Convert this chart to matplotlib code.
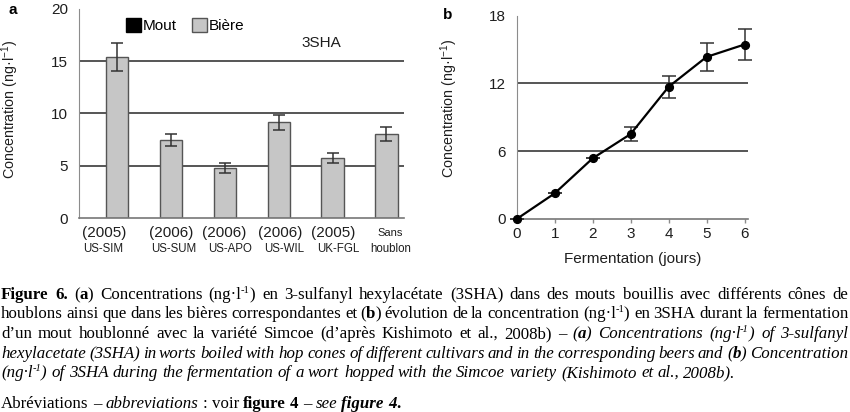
import numpy as np
import matplotlib
matplotlib.use("Agg")
from matplotlib import pyplot as plt
from matplotlib.patches import Patch
from matplotlib.transforms import IdentityTransform, blended_transform_factory, offset_copy

plt.rcParams["font.family"] = ["Liberation Sans", "DejaVu Sans"]
plt.rcParams["mathtext.fontset"] = "custom"
plt.rcParams["mathtext.rm"] = "Liberation Sans"
plt.rcParams["mathtext.it"] = "Liberation Sans:italic"
plt.rcParams["mathtext.bf"] = "Liberation Sans:bold"

# panel a : 3SHA in beers brewed with different hop cultivars
years = ["(2005)", "(2006)", "(2006)", "(2006)", "(2005)", "Sans"]
cultivars = ["US-SIM", "US-SUM", "US-APO", "US-WIL", "UK-FGL", "houblon"]
beer = [15.4, 7.45, 4.75, 9.15, 5.75, 8.05]
beer_err = [1.33, 0.6, 0.47, 0.74, 0.5, 0.7]

# panel b : 3SHA during fermentation
days = [0, 1, 2, 3, 4, 5, 6]
conc = [0, 2.27, 5.37, 7.52, 11.7, 14.35, 15.45]
conc_err = [0, 0, 0, 0.62, 1.0, 1.22, 1.33]

caption = [
    ([("Figure 6.", "b"), (" (", "r"), ("a", "b"), (") Concentrations (ng·l", "r"), ("-1", "sup"),
      (") en 3-sulfanyl hexylacétate (3SHA) dans des mouts bouillis avec différents cônes de", "r")], True),
    ([("houblons ainsi que dans les bières correspondantes et (", "r"), ("b", "b"),
      (") évolution de la concentration (ng·l", "r"), ("-1", "sup"), (") en 3SHA durant la fermentation", "r")], True),
    ([("d’un mout houblonné avec la variété Simcoe (d’après Kishimoto et al., 2008b) – ", "r"), ("(", "i"),
      ("a", "bi"), (") Concentrations (ng·l", "i"), ("-1", "isup"), (") of 3-sulfanyl", "i")], True),
    ([("hexylacetate (3SHA) in worts boiled with hop cones of different cultivars and in the corresponding beers and (", "i"),
      ("b", "bi"), (") Concentration", "i")], True),
    ([("(ng·l", "i"), ("-1", "isup"),
      (") of 3SHA during the fermentation of a wort hopped with the Simcoe variety (Kishimoto et al., 2008b).", "i")], False),
    ([("Abréviations – ", "r"), ("abbreviations", "i"), (" : voir ", "r"), ("figure 4", "b"), (" – ", "r"),
      ("see ", "i"), ("figure 4", "bi"), (".", "b")], False),
]

W, H, DPI = 850, 412, 100
fig = plt.figure(figsize=(W / DPI, H / DPI), dpi=DPI)


def box(l, t, r, b):
    return [l / W, 1 - b / H, (r - l) / W, (b - t) / H]


GRID = "#555555"
AXIS = "#8c8c8c"
TXT = "#1e1e1e"

# ---- panel a
ax1 = fig.add_axes(box(79, 9, 404, 218))
x = np.arange(len(beer))
for y in [5, 10, 15]:
    ax1.axhline(y, color=GRID, lw=1.4, zorder=0)
ax1.bar(x, beer, width=0.414, color="#c6c6c6", edgecolor="#555555", linewidth=1.0,
        yerr=beer_err, capsize=4.5,
        error_kw=dict(ecolor="#333333", elinewidth=1.1, capthick=1.1), zorder=2)
ax1.set_xlim(-0.709, 5.325)
ax1.set_ylim(0, 20)
ax1.set_yticks([0, 5, 10, 15, 20])
ax1.set_xticks([])
ax1.tick_params(axis="y", length=0, pad=8, labelsize=11, labelcolor=TXT)
for s in ["top", "right"]:
    ax1.spines[s].set_visible(False)
ax1.spines["left"].set_color(AXIS)
ax1.spines["bottom"].set_color("#777777")
ax1.spines["bottom"].set_linewidth(1.2)

trans = blended_transform_factory(ax1.transData, ax1.transAxes)
dx_year = [-13, 0, -1, 1, 1, 4]
dx_cult = [-14, 3, 5, 5, 6, 4]
for i, (yr, cv) in enumerate(zip(years, cultivars)):
    small = i == len(years) - 1
    ax1.text(i, -0.072, yr, transform=offset_copy(trans, fig, x=dx_year[i], units="dots"),
             ha="center", va="center", fontsize=8 if small else 11, color=TXT)
    ax1.text(i, -0.146, cv, transform=offset_copy(trans, fig, x=dx_cult[i], units="dots"),
             ha="center", va="center", fontsize=8.3, color=TXT)

ax1.set_ylabel("Concentration (ng·l$^{-1}$)", fontsize=10.3, color=TXT)
ax1.yaxis.set_label_coords(-0.178, 0.517)
handles = [Patch(facecolor="black", edgecolor="black"),
           Patch(facecolor="#c6c6c6", edgecolor="#555555")]
ax1.legend(handles, ["Mout", "Bière"], ncol=2, loc="upper left", bbox_to_anchor=(0.145, 0.955),
           frameon=False, fontsize=11, handlelength=1.0, handleheight=1.0,
           handletextpad=0.1, columnspacing=1.0, borderpad=0, borderaxespad=0)
ax1.text(0.747, 0.839, "3SHA", transform=ax1.transAxes, ha="center", va="center",
         fontsize=11, color=TXT)
fig.text(13 / W, 1 - 10 / H, "a", fontsize=11, fontweight="bold", ha="center", va="center")

# ---- panel b
ax2 = fig.add_axes(box(516.7, 15.7, 748.3, 219))
for y in [6, 12]:
    ax2.axhline(y, color=GRID, lw=1.4, zorder=0)
ax2.errorbar(days, conc, yerr=conc_err, color="black", lw=1.6, marker="o", ms=5.6,
             capsize=5, ecolor="#333333", elinewidth=1.1, capthick=1.1, clip_on=False, zorder=3)
ax2.set_xlim(0, 6.1)
ax2.set_ylim(0, 18)
ax2.set_xticks(days)
ax2.set_yticks([0, 6, 12, 18])
ax2.tick_params(axis="y", length=0, pad=8, labelsize=11, labelcolor=TXT)
ax2.tick_params(axis="x", length=3, width=1, color=AXIS, pad=3, labelsize=11, labelcolor=TXT)
for s in ["top", "right"]:
    ax2.spines[s].set_visible(False)
ax2.spines["left"].set_color(AXIS)
ax2.spines["bottom"].set_color("#777777")
ax2.spines["bottom"].set_linewidth(1.2)
ax2.set_xlabel("Fermentation (jours)", fontsize=11, color=TXT, labelpad=8)
ax2.set_ylabel("Concentration (ng·l$^{-1}$)", fontsize=10.3, color=TXT)
ax2.yaxis.set_label_coords(-0.245, 0.543)
fig.text(448 / W, 1 - 15 / H, "b", fontsize=11, fontweight="bold", ha="center", va="center")

# ---- caption, justified like the printed page
STYLES = {
    "r": ("normal", "normal", 1.0, 0.0),
    "b": ("bold", "normal", 1.0, 0.0),
    "i": ("normal", "italic", 1.0, 0.0),
    "bi": ("bold", "italic", 1.0, 0.0),
    "sup": ("normal", "normal", 0.62, 0.38),
    "isup": ("normal", "italic", 0.62, 0.38),
}
renderer = fig.canvas.get_renderer()
X0, X1 = 1.0, 848.0


def split_tokens(pieces):
    tokens = [[]]
    for text, code in pieces:
        for k, part in enumerate(text.split(" ")):
            if k > 0:
                tokens.append([])
            if part:
                tokens[-1].append((part, code))
    return [t for t in tokens if t]


def make_tokens(pieces, size):
    items = []
    for tok in split_tokens(pieces):
        arts = []
        for part, code in tok:
            weight, style, scale, rise = STYLES[code]
            t = fig.text(0, 0, part, fontsize=size * scale, fontweight=weight, fontstyle=style,
                         family="Liberation Serif", transform=IdentityTransform(), va="baseline")
            arts.append((t, t.get_window_extent(renderer).width, rise))
        items.append(arts)
    return items


def natural_width(pieces, size):
    items = make_tokens(pieces, size)
    w = sum(a[1] for arts in items for a in arts)
    for arts in items:
        for a in arts:
            a[0].remove()
    return w, len(items) - 1


def draw_line(pieces, base, justify, size):
    items = make_tokens(pieces, size)
    widths = [sum(a[1] for a in arts) for arts in items]
    if justify:
        gap = (X1 - X0 - sum(widths)) / (len(items) - 1)
    else:
        gap = size * 0.25 * DPI / 72
    xx = X0
    for arts in items:
        for t, w, rise in arts:
            t.set_position((round(xx), H - base + round(rise * size * DPI / 72)))
            xx += w
        xx += gap


# pick the caption size: line 5 ends near x=732 in print, justified lines must still fit
ref = 11.0
w5, n5 = natural_width(caption[4][0], ref)
size = ref * (731 - X0) / (w5 + n5 * ref * 0.25 * DPI / 72)
for pieces, justify in caption:
    if justify:
        w, n = natural_width(pieces, ref)
        size = min(size, ref * (X1 - X0 - n * 2.6) / w)

baselines = [299, 318, 338, 358, 377, 408]
for (pieces, justify), base in zip(caption, baselines):
    draw_line(pieces, base, justify, size)

fig.savefig("out.png", dpi=DPI)
